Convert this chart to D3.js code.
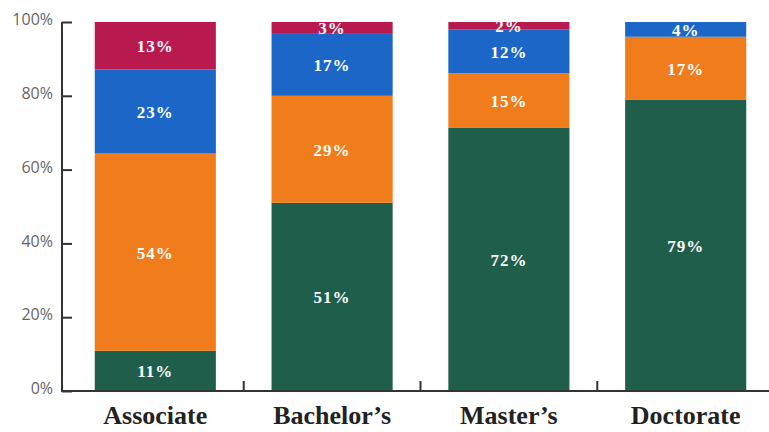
<!DOCTYPE html>
<html><head><meta charset="utf-8">
<script src="https://cdn.jsdelivr.net/npm/d3@7"></script>
<style>html,body{margin:0;padding:0;background:#fff;}svg{display:block;}</style>
</head><body>
<svg id="chart" width="769" height="432"></svg>
<script>
const categories = ["Associate", "Bachelor’s", "Master’s", "Doctorate"];
const seriesNames = ["s1", "s2", "s3", "s4"];
const s1 = [11, 51, 72, 79];
const s2 = [54, 29, 15, 17];
const s3 = [23, 17, 12, 4];
const s4 = [13, 3, 2, 0];
const yTicks = [0, 0.2, 0.4, 0.6, 0.8, 1.0];
const colors = ["#1e5e4a", "#f07c1c", "#1b66c6", "#b81a50"];

const seriesValues = [s1, s2, s3, s4];
const table = categories.map((c, i) => {
  const row = {cat: c};
  seriesNames.forEach((s, j) => row[s] = seriesValues[j][i]);
  return row;
});

const svg = d3.select("#chart");
const x = d3.scaleBand().domain(categories).range([67, 774]).paddingInner(0.315).paddingOuter(0.157);
const y = d3.scaleLinear().domain([0, 1]).range([391, 22]);

const stack = d3.stack().keys(seriesNames).offset(d3.stackOffsetExpand);
const layers = stack(table);

const g = svg.append("g");
layers.forEach((layer, li) => {
  g.selectAll(null).data(layer.filter(d => d.data[seriesNames[li]] > 0)).enter()
    .append("rect")
    .attr("x", d => x(d.data.cat))
    .attr("width", x.bandwidth())
    .attr("y", d => y(d[1]))
    .attr("height", d => y(d[0]) - y(d[1]))
    .attr("fill", colors[li]);
});
layers.forEach((layer, li) => {
  g.selectAll(null).data(layer.filter(d => d.data[seriesNames[li]] > 0)).enter()
    .append("text")
    .attr("x", d => x(d.data.cat) + x.bandwidth() / 2)
    .attr("y", d => (y(d[0]) + y(d[1])) / 2)
    .attr("dy", "0.38em")
    .attr("text-anchor", "middle")
    .attr("font-family", "Liberation Serif, DejaVu Serif, serif")
    .attr("font-weight", "bold")
    .attr("font-size", 17)
    .attr("letter-spacing", 1)
    .attr("fill", "#fff")
    .text(d => d.data[seriesNames[li]] + "%");
});

// Y axis
const yAxis = d3.axisRight(y).tickValues(yTicks).tickSize(10).tickFormat("");
const ya = svg.append("g").attr("transform", "translate(62,0)").call(yAxis);
ya.select(".domain").attr("stroke", "#333").attr("stroke-width", 2).attr("d", "M0,22V391");
ya.selectAll(".tick line").attr("stroke", "#333").attr("stroke-width", 2);
svg.append("g").selectAll("text").data(yTicks).enter().append("text")
  .attr("x", 53).attr("y", d => y(d)).attr("dy", "0.2em")
  .attr("text-anchor", "end")
  .attr("font-family", "Open Sans, sans-serif")
  .attr("font-size", 16).attr("fill", "#666")
  .text(d => d3.format(".0%")(d));

// X axis baseline with separator ticks
const xa = svg.append("g").attr("transform", "translate(0,391)");
xa.append("line").attr("x1", 61).attr("x2", 769).attr("stroke", "#333").attr("stroke-width", 2);
const seps = categories.slice(1).map(c => x(c) - x.step() * x.paddingInner() / 2);
xa.selectAll(null).data(seps).enter().append("line")
  .attr("x1", d => d).attr("x2", d => d).attr("y1", 0).attr("y2", -10)
  .attr("stroke", "#333").attr("stroke-width", 2);
xa.selectAll(null).data(categories).enter().append("text")
  .attr("x", d => x(d) + x.bandwidth() / 2)
  .attr("y", 33)
  .attr("text-anchor", "middle")
  .attr("font-family", "Liberation Serif, DejaVu Serif, serif")
  .attr("font-weight", "bold")
  .attr("font-size", 26).attr("fill", "#222")
  .text(d => d);
</script>
</body></html>
